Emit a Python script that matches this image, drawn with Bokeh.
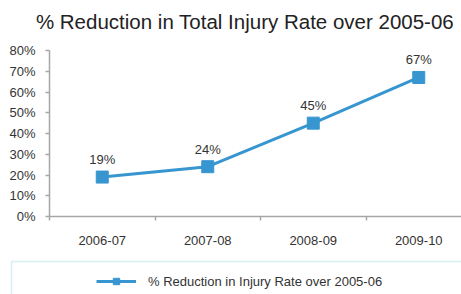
from bokeh.plotting import figure
from bokeh.models import (ColumnDataSource, FixedTicker, Range1d, Legend, LegendItem,
                          BoxAnnotation, LabelSet, Label, NumeralTickFormatter)
from bokeh.core.properties import value
from bokeh.embed import file_html
from bokeh.resources import INLINE

categories = ["2006-07", "2007-08", "2008-09", "2009-10"]
values = [19, 24, 45, 67]
value_labels = ["19%", "24%", "45%", "67%"]
series_name = "% Reduction in Injury Rate over 2005-06"
title_text = "% Reduction in Total Injury Rate over 2005-06"
y_ticks = [0, 10, 20, 30, 40, 50, 60, 70, 80]

xs = [i + 0.5 for i in range(len(categories))]
src = ColumnDataSource(dict(x=xs, y=values, lab=value_labels))

FONT = "Liberation Sans"
BLUE = "#3796D0"
AXIS = "#A6A6A6"
TEXT = "#333333"

# frame covers the whole canvas; axes pinned at x=0 / y=0
W, H = 461, 294
px_per_cat = 105.5
px_per_unit = 166 / 80
x_rng = Range1d(-49 / px_per_cat, (W - 49) / px_per_cat)
y_rng = Range1d(-(H - 216) / px_per_unit, 80 + 50 / px_per_unit)

p = figure(width=W, height=H, output_backend="svg", toolbar_location=None,
           x_range=x_rng, y_range=y_rng,
           min_border_left=0, min_border_right=0, min_border_top=0, min_border_bottom=0)
p.outline_line_color = None
p.grid.grid_line_color = None
p.background_fill_color = "white"
p.border_fill_color = "white"

title = Label(x=244.5, y=H - 21, x_units="screen", y_units="screen", text=title_text,
              text_align="center", text_baseline="alphabetic", text_font=FONT,
              text_font_size="20.5px", text_color="#222222")
p.add_layout(title)

# y axis, pinned at x=0
ya = p.yaxis[0]
ya.fixed_location = 0
ya.ticker = FixedTicker(ticks=y_ticks)
ya.formatter = NumeralTickFormatter(format="0")
ya.major_label_overrides = {t: f"{t}%" for t in y_ticks}
ya.bounds = (0, 80)
ya.axis_line_color = AXIS
ya.axis_line_width = 1.5
ya.major_tick_line_color = AXIS
ya.major_tick_line_width = 1.5
ya.major_tick_out = 4
ya.major_tick_in = 0
ya.minor_tick_line_color = None
ya.major_label_standoff = 10
ya.major_label_text_font = FONT
ya.major_label_text_font_size = "13px"
ya.major_label_text_color = TEXT

# x axis, pinned at 0%
xa = p.xaxis[0]
xa.fixed_location = 0
xa.ticker = FixedTicker(ticks=xs, minor_ticks=list(range(len(categories) + 1)))
xa.major_label_overrides = {x: c for x, c in zip(xs, categories)}
xa.bounds = (0, x_rng.end)
xa.axis_line_color = AXIS
xa.axis_line_width = 1.5
xa.major_tick_line_color = None
xa.major_tick_out = 4
xa.major_tick_in = 0
xa.minor_tick_line_color = AXIS
xa.minor_tick_line_width = 1.5
xa.minor_tick_out = 4
xa.minor_tick_in = 0
xa.major_label_standoff = 15
xa.major_label_text_font = FONT
xa.major_label_text_font_size = "13px"
xa.major_label_text_color = TEXT

ln = p.line("x", "y", source=src, line_color=BLUE, line_width=3)
sq = p.scatter("x", "y", source=src, marker="square", size=12, fill_color=BLUE, line_color=BLUE)

labels = LabelSet(x="x", y="y", text="lab", source=src, y_offset=10, text_align="center",
                  text_baseline="bottom", text_font=value(FONT), text_font_size=value("13px"),
                  text_color=TEXT)
p.add_layout(labels)

legend = Legend(items=[LegendItem(label=series_name, renderers=[ln, sq])],
                location=(96, 5), orientation="horizontal",
                border_line_color=None, background_fill_alpha=0,
                padding=0, margin=0, glyph_width=40, glyph_height=16, label_standoff=12,
                label_text_font=FONT, label_text_font_size="13px", label_text_color=TEXT)
p.add_layout(legend, "center")

box = BoxAnnotation(left=11, right=475, top=261, bottom=310,
                    left_units="canvas", right_units="canvas", top_units="canvas", bottom_units="canvas",
                    fill_alpha=0, line_color="#80CCD3", line_width=1.5, level="overlay")
p.add_layout(box)

open("out.html", "w").write(file_html(p, INLINE))
